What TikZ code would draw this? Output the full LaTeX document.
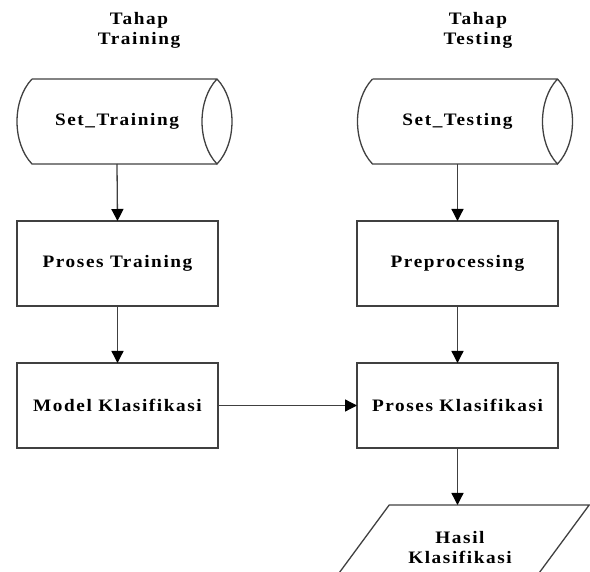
\documentclass[tikz,border=0pt]{standalone}
\usepackage{fontspec}
\setmainfont{Liberation Serif}[FakeStretch=1.1,LetterSpace=9]
\usetikzlibrary{arrows.meta,calc}
\begin{document}
\begin{tikzpicture}[x=1pt,y=-1pt,
  ln/.style={line width=1.3pt,draw=black!75},
  txt/.style={font=\fontsize{17.5}{20}\selectfont\bfseries,align=center},
  procbox/.style={ln,txt,rectangle,minimum width=201pt,minimum height=85pt,inner sep=0pt,outer sep=0pt},
  ghost/.style={txt,rectangle,minimum width=200pt,minimum height=85pt,inner sep=0pt,outer sep=0pt},
  arr/.style={ln,-{Triangle[width=12pt,length=12pt,color=black,fill=black]}}]
\useasboundingbox (0,0) rectangle (590,572);
\clip (0,0) rectangle (590,572);
% titles
\node[txt] (t1) at (139,30) {Tahap\\Training};
\node[txt] (t2) at (478,30) {Tahap\\Testing};
% cylinders
\node[ghost] (st) at (117,121.5) {Set\_Training};
\node[ghost] (ss) at (457.5,121.5) {Set\_Testing};
\foreach \c in {st,ss}{
  \draw[ln] ([xshift=15pt]\c.north west) -- (\c.north east)
        .. controls +(20,21) and +(20,-21) .. (\c.south east)
        .. controls +(-20,-21) and +(-20,21) .. (\c.north east);
  \draw[ln] (\c.south east) -- ([xshift=15pt]\c.south west)
        .. controls +(-20,-21) and +(-20,21) .. ([xshift=15pt]\c.north west);
}
% boxes
\node[procbox] (pt) at (117.5,263.5) {Proses Training};
\node[procbox] (mk) at (117.5,405.5) {Model Klasifikasi};
\node[procbox] (pp) at (457.5,263.5) {Preprocessing};
\node[procbox] (pk) at (457.5,405.5) {Proses Klasifikasi};
% output parallelogram
\node[ghost,minimum height=86pt] (hs) at (460,548) {Hasil\\Klasifikasi};
\draw[ln] ([xshift=29.2pt]hs.north west) -- ([xshift=29.2pt]hs.north east)
      -- ([xshift=-34.2pt]hs.south east) -- ([xshift=-34.2pt]hs.south west) -- cycle;
% connectors
\draw[arr] (st.south) -- (pt.north);
\draw[arr] (pt.south) -- (mk.north);
\draw[arr] (ss.south) -- (pp.north);
\draw[arr] (pp.south) -- (pk.north);
\draw[arr] (mk.east) -- (pk.west);
\draw[arr] (pk.south) -- (pk.south |- hs.north);
\end{tikzpicture}
\end{document}
